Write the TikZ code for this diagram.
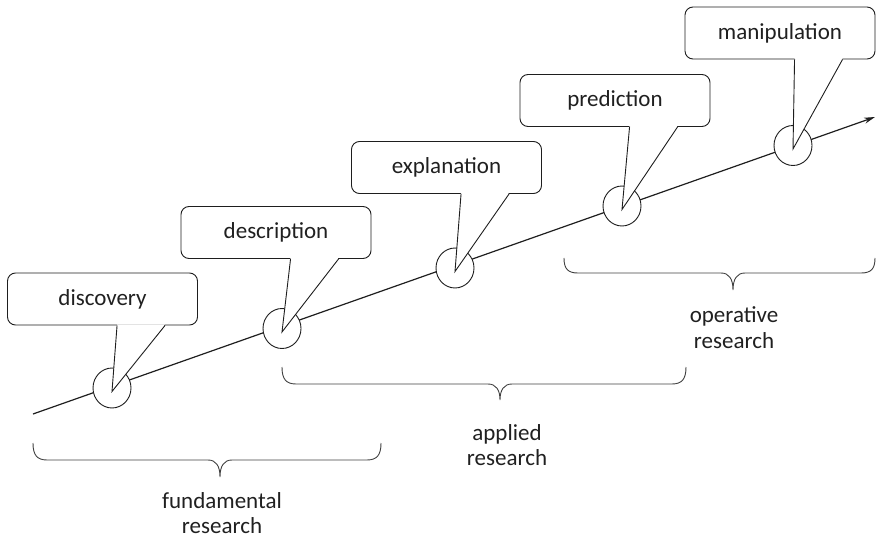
\documentclass[tikz,border=0pt]{standalone}
\usepackage{fontspec}
\setmainfont{Carlito}
\usetikzlibrary{arrows.meta,calc,shapes.geometric}
\definecolor{ink}{HTML}{1E1E1E}
\definecolor{txt}{HTML}{202020}
\begin{document}
\begin{tikzpicture}[x=1pt,y=-1pt,
  every node/.style={font=\fontsize{23}{25}\selectfont, text=txt},
  bubble/.style={draw=ink, line width=0.9pt, fill=white, rounded corners=8pt,
    minimum width=190pt, minimum height=52pt, inner sep=0pt},
  station/.style={ellipse, draw=ink, line width=0.9pt, fill=white,
    minimum width=38pt, minimum height=40pt, inner sep=0pt},
  tailline/.style={draw=ink, line width=0.9pt, line join=miter},
  timeline/.style={draw=ink, line width=1.2pt, -{Stealth[length=11pt,width=6pt]}},
  spanbrace/.style={draw=ink!85, line width=0.9pt},
  caption/.style={align=center, anchor=base}
]
\useasboundingbox (0,0) rectangle (876,540);

% the time axis
\coordinate (start) at (33,414);
\coordinate (end) at (875,117);
\draw[timeline] (start) -- (end);

% stations on the axis
\node[station] (c1) at (112,388) {};
\node[station] (c2) at (282,328.5) {};
\node[station] (c3) at (455,268) {};
\node[station] (c4) at (622,206) {};
\node[station] (c5) at (793,145.5) {};

% speech bubbles
\node[bubble] (b1) at (102.5,299) {discovery};
\node[bubble] (b2) at (276,232.5) {description};
\node[bubble] (b3) at (446.5,167.5) {explanation};
\node[bubble] (b4) at (615,100.5) {prediction};
\node[bubble] (b5) at (780,33) {manipulation};

% bubble tails pointing into the stations
\foreach \i in {1,...,5}{
  \fill[white] ($(b\i.south west)+(110,-1.2)$) -- ($(c\i.center)+(0,3.5)$)
               -- ($(b\i.south west)+(158,-1.2)$) -- cycle;
  \draw[tailline] ($(b\i.south west)+(110,0)$) -- ($(c\i.center)+(0,3.5)$)
               -- ($(b\i.south west)+(158,0)$);
}

% braces under the axis
\draw[spanbrace] (33,443) .. controls (33,455) and (37,460) .. (47,460)
  -- (208,460) .. controls (216,460) and (220,466) .. (220,477)
  .. controls (220,466) and (224,460) .. (232,460)
  -- (367,460) .. controls (377,460) and (381,455) .. (381,443);
\draw[spanbrace] (282,367) .. controls (282,379) and (286,384) .. (296,384)
  -- (488,384) .. controls (496,384) and (500,390) .. (500,400)
  .. controls (500,390) and (504,384) .. (512,384)
  -- (672,384) .. controls (682,384) and (686,379) .. (686,367);
\draw[spanbrace] (564,258) .. controls (564,269) and (568,273) .. (578,273)
  -- (721,273) .. controls (729,273) and (733,279) .. (733,290)
  .. controls (733,279) and (737,273) .. (745,273)
  -- (861,273) .. controls (871,273) and (875,269) .. (875,258);

% research categories (base anchor sits on the last line)
\node[caption] (fund) at (222,533) {fundamental\\research};
\node[caption] (appl) at (507,465) {applied\\research};
\node[caption] (oper) at (734,348) {operative\\research};
\end{tikzpicture}
\end{document}
